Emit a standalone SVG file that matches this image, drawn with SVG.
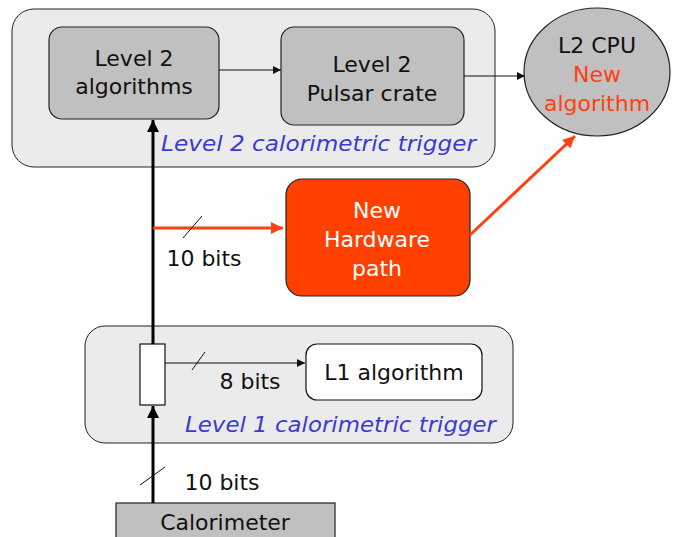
<svg xmlns="http://www.w3.org/2000/svg" width="675" height="537" viewBox="0 0 675 537">
<style>
text{font-family:"Comic Sans MS","DejaVu Sans",sans-serif;font-size:22px;fill:#111;text-anchor:middle}
.blue{fill:#3b3bd0;font-style:italic;text-anchor:start}
.red{fill:#ff4010}
.white{fill:#fff}
.grp{fill:#ebebeb;stroke:#222;stroke-width:1}
.box{fill:#c0c0c0;stroke:#222;stroke-width:1.2}
.thin{stroke:#111;stroke-width:1;fill:none}
.thick{stroke:#000;stroke-width:3;fill:none}
</style>
<defs>
<marker id="ah" viewBox="0 0 10 10" refX="10" refY="5" markerWidth="10" markerHeight="8" markerUnits="userSpaceOnUse" orient="auto"><path d="M0,0 L10,5 L0,10 z" fill="#111"/></marker>
<marker id="ahb" viewBox="0 0 10 10" refX="10" refY="5" markerWidth="14" markerHeight="12" markerUnits="userSpaceOnUse" orient="auto"><path d="M0,0 L10,5 L0,10 z" fill="#000"/></marker>
<marker id="ahr" viewBox="0 0 10 10" refX="10" refY="5" markerWidth="14" markerHeight="12" markerUnits="userSpaceOnUse" orient="auto"><path d="M0,0 L10,5 L0,10 z" fill="#ff4010"/></marker>
</defs>
<g id="l2-trigger">
<rect class="grp" x="12" y="9" width="483" height="158" rx="22"/>
<text class="blue" x="161" y="151" textLength="315" lengthAdjust="spacingAndGlyphs">Level 2 calorimetric trigger</text>
</g>
<g id="l2-algorithms">
<rect class="box" x="49" y="27" width="170" height="92" rx="13"/>
<text x="134" y="66">Level 2</text>
<text x="134" y="94">algorithms</text>
</g>
<g id="pulsar">
<rect class="box" x="281" y="27" width="183" height="98" rx="13"/>
<text x="372" y="72">Level 2</text>
<text x="372" y="101">Pulsar crate</text>
</g>
<g id="l2cpu">
<ellipse cx="597" cy="72" rx="73" ry="64" fill="#c0c0c0" stroke="#222" stroke-width="1.2"/>
<text x="597" y="53">L2 CPU</text>
<text class="red" x="597" y="82">New</text>
<text class="red" x="597" y="111">algorithm</text>
</g>
<g id="hw-path">
<rect x="286" y="179" width="184" height="117" rx="16" fill="#ff4000" stroke="#222" stroke-width="1.2"/>
<text class="white" x="377" y="218">New</text>
<text class="white" x="377" y="247">Hardware</text>
<text class="white" x="377" y="276">path</text>
</g>
<g id="l1-trigger">
<rect class="grp" x="85" y="326" width="428" height="117" rx="20"/>
<text class="blue" x="185" y="432" textLength="311" lengthAdjust="spacingAndGlyphs">Level 1 calorimetric trigger</text>
</g>
<g id="splitter">
<rect x="140" y="344" width="25" height="61" fill="#fff" stroke="#111" stroke-width="1.2"/>
</g>
<g id="l1-algorithm">
<rect x="306" y="344" width="176" height="56" rx="11" fill="#fff" stroke="#111" stroke-width="1.2"/>
<text x="394" y="380">L1 algorithm</text>
</g>
<g id="calorimeter">
<rect class="box" x="116" y="503" width="219" height="40"/>
<text x="225" y="530">Calorimeter</text>
</g>
<g id="connectors">
<line class="thin" x1="219" y1="70" x2="281" y2="70" marker-end="url(#ah)"/>
<line class="thin" x1="464" y1="76" x2="525" y2="76" marker-end="url(#ah)"/>
<line class="thick" x1="153" y1="344" x2="153" y2="120" marker-end="url(#ahb)"/>
<line x1="153" y1="228" x2="283" y2="228" stroke="#ff4010" stroke-width="3" marker-end="url(#ahr)"/>
<line x1="183" y1="238" x2="202" y2="216" stroke="#111" stroke-width="1"/>
<text x="204" y="266">10 bits</text>
<line x1="470" y1="235" x2="575" y2="136" stroke="#ff4010" stroke-width="3" marker-end="url(#ahr)"/>
<line class="thin" x1="165" y1="363" x2="305" y2="363" marker-end="url(#ah)"/>
<line x1="192" y1="370" x2="205" y2="352" stroke="#111" stroke-width="1"/>
<text x="250" y="389">8 bits</text>
<line class="thick" x1="153" y1="503" x2="153" y2="406" marker-end="url(#ahb)"/>
<line x1="140" y1="485" x2="165" y2="467" stroke="#111" stroke-width="1"/>
<text x="222" y="490">10 bits</text>
</g>
</svg>
